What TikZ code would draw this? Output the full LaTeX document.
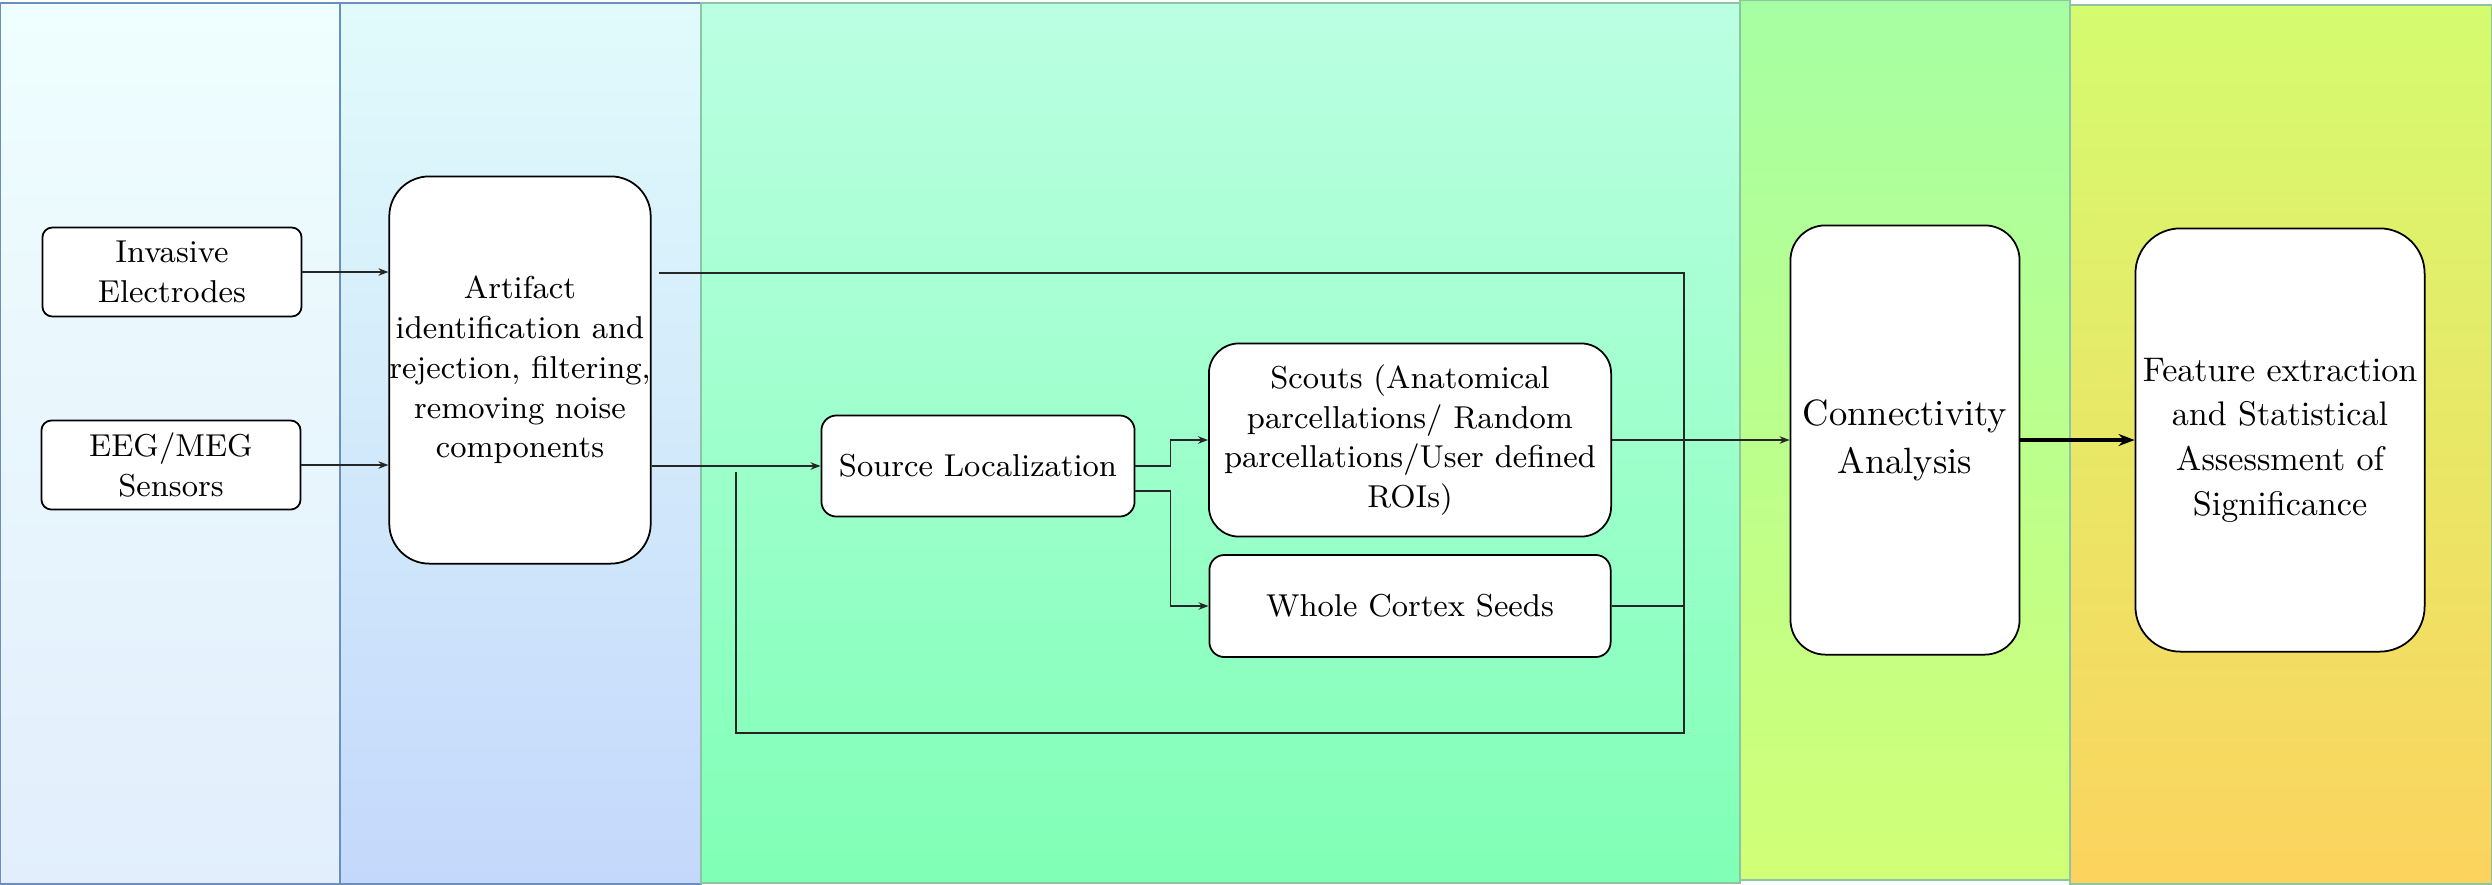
\documentclass[tikz,border=0pt]{standalone}
\usetikzlibrary{arrows.meta}

\definecolor{blueEdge}{HTML}{6C8EBF}
\definecolor{greenEdge}{HTML}{8CC5A4}

\begin{document}
\begin{tikzpicture}[x=0.01cm,y=-0.01cm,
		box/.style={draw, fill=white, line width=0.5pt, rounded corners=#1, align=center, inner sep=0pt,
			font=\fontsize{9}{11.3}\selectfont},
		box/.default=1.5mm,
		link/.style={line width=0.45pt, draw=black!85},
		arr/.style={link, -{Stealth[length=1mm, width=0.75mm]}},
		panel/.style={line width=0.6pt}]
	\useasboundingbox (0,0) rectangle (2492,884);
	
	% Hintergrund
	\path[panel, draw=blueEdge, top color={rgb,255:red,239;green,254;blue,254}, bottom color={rgb,255:red,226;green,238;blue,252}] (0,3) rectangle (340,884);
	\path[panel, draw=blueEdge, top color={rgb,255:red,225;green,251;blue,251}, bottom color={rgb,255:red,196;green,216;blue,251}] (340,3) rectangle (701,884);
	\path[panel, draw=greenEdge, top color={rgb,255:red,187;green,255;blue,226}, bottom color={rgb,255:red,128;green,255;blue,182}] (701,3) rectangle (1740,883);
	\path[panel, draw=greenEdge, top color={rgb,255:red,166;green,255;blue,163}, bottom color={rgb,255:red,209;green,255;blue,119}] (1740,0) rectangle (2070,880);
	\path[panel, draw=greenEdge, top color={rgb,255:red,213;green,251;blue,111}, bottom color={rgb,255:red,252;green,211;blue,94}] (2070,5) rectangle (2492,884);
	
	% Knoten
	\node[box=1mm, minimum width=2.59cm, minimum height=0.89cm] (inv) at (172,272) {Invasive\\Electrodes};
	\node[box=1mm, minimum width=2.59cm, minimum height=0.89cm] (eeg) at (171,465) {EEG/MEG\\Sensors};
	\node[box=4mm, minimum width=2.59cm, minimum height=3.87cm] (art) at (520,370) {Artifact\\identification and\\rejection, filtering,\\removing noise\\components};
	\node[box, minimum width=3.13cm, minimum height=1.01cm] (srcloc) at (978,466) {Source Localization};
	\node[box=3mm, minimum width=4.02cm, minimum height=1.93cm] (scouts) at (1410,440) {Scouts (Anatomical\\parcellations/ Random\\parcellations/User defined\\ROIs)};
	\node[box, minimum width=4.01cm, minimum height=1.02cm] (whole) at (1410,606) {Whole Cortex Seeds};
	\node[box=3.5mm, minimum width=2.29cm, minimum height=4.29cm, font=\fontsize{10.4}{13.7}\selectfont] (conn) at (1905,440) {Connectivity\\Analysis};
	\node[box=4.5mm, minimum width=2.89cm, minimum height=4.23cm, font=\fontsize{9.7}{12.7}\selectfont] (feat) at (2280,440) {Feature extraction\\and Statistical\\Assessment of\\Significance};
	
	\coordinate (busTop) at (1684,273);
	\coordinate (busBot) at (1684,733);
	\coordinate (loopEnd) at (736,472);
	
	% Kanten
	\draw[arr] (inv) -- (inv -| art.west);
	\draw[arr] (eeg) -- (eeg -| art.west);
	\draw[arr] (art.east |- srcloc.west) -- (srcloc.west);
	\draw[link] ([xshift=0.7mm]art.east |- busTop) -- (busTop) -- (busBot) -| (loopEnd);
	\draw[arr] (srcloc.east) -- ++(35,0) |- (scouts.west);
	\draw[arr] ([yshift=-2.5mm]srcloc.east) -- ++(35,0) |- (whole.west);
	\draw[link] (whole.east) -- (whole.east -| busTop);
	\draw[arr] (scouts.east) -- (conn.west);
	\draw[line width=0.9pt, -{Stealth[length=1.6mm, width=1.2mm]}] (conn.east) -- (feat.west);
\end{tikzpicture}
\end{document}
